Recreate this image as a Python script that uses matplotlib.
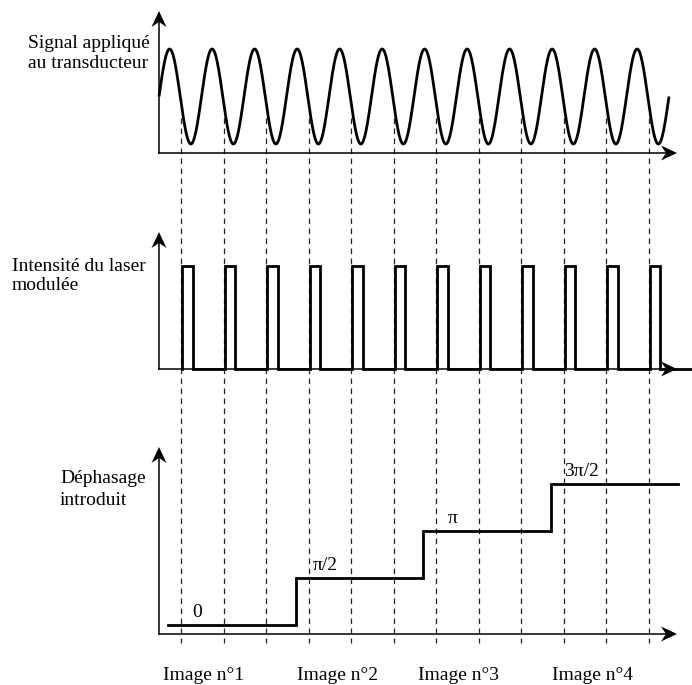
import numpy as np
import matplotlib
matplotlib.use("Agg")
import matplotlib.pyplot as plt
from matplotlib.patches import Polygon

# ---------------- data ----------------
n_periods = 12                                   # periods of the transducer signal
pulse_times = [0.52 + k for k in range(12)]      # laser pulse start (in periods)
pulse_width = 0.24                               # pulse duration (in periods)
phase_levels = [0, 0.5 * np.pi, np.pi, 1.5 * np.pi]
phase_edges = [0.22, 3.22, 6.21, 9.22, 12.21]    # times where the phase changes
phase_labels = ["0", "π/2", "π", "3π/2"]
phase_label_x = [0.90, 3.92, 6.92, 9.95]
image_labels = ["Image n°1", "Image n°2", "Image n°3", "Image n°4"]
image_label_x = [1.06, 4.19, 7.04, 10.19]
panel_titles = [["Signal appliqué", "au transducteur"],
                ["Intensité du laser", "modulée"],
                ["Déphasage", "introduit"]]

# ---------------- layout (pixels) ----------------
W, H = 692, 685
X0 = 159.0          # x of the vertical axes
PX = 42.5           # pixels per period
X_TIP = 677.0
def tx(t):
    return X0 + PX * np.asarray(t)

fig = plt.figure(figsize=(W / 100, H / 100), dpi=100)
ax = fig.add_axes([0, 0, 1, 1])
ax.set_xlim(0, W)
ax.set_ylim(H, 0)
ax.axis("off")

FONT = "Liberation Serif"
FS = 14
AX_LW = 1.1
SIG_LW = 2.0

def arrow_up(x, ytip):
    ax.add_patch(Polygon([(x, ytip), (x - 7.5, ytip + 16), (x, ytip + 11),
                          (x + 7.5, ytip + 16)], closed=True, color="black", lw=0))

def arrow_right(xtip, y):
    ax.add_patch(Polygon([(xtip, y), (xtip - 16, y - 7.5), (xtip - 11, y),
                          (xtip - 16, y + 7.5)], closed=True, color="black", lw=0))

def frame(base, ytop):
    ax.plot([X0, X0], [base, ytop + 6], color="black", lw=AX_LW)
    ax.plot([X0, X_TIP - 6], [base, base], color="black", lw=AX_LW)
    arrow_up(X0, ytop)
    arrow_right(X_TIP, base)

# dashed guide lines
for t in pulse_times:
    ax.plot([tx(t), tx(t)], [118, 643], color="#222222", lw=0.9,
            dashes=(4.5, 3.5), zorder=1)

# ---- panel 1 : sine ----
B1, T1 = 153.0, 11.0
frame(B1, T1)
t = np.linspace(0, n_periods, 2000)
ax.plot(tx(t), 96.5 - 47.5 * np.sin(2 * np.pi * t), color="black", lw=SIG_LW,
        solid_capstyle="butt", zorder=3)

# ---- panel 2 : pulses ----
B2, T2 = 369.0, 232.0
frame(B2, T2)
HI2 = 266.0
xs, ys = [], []
for p in pulse_times:
    s = p + 0.03
    xs += [tx(s), tx(s), tx(s + pulse_width), tx(s + pulse_width)]
    ys += [B2, HI2, HI2, B2]
xs.append(W)
ys.append(B2)
ax.plot(xs, ys, color="black", lw=SIG_LW, solid_joinstyle="miter", zorder=3)

# ---- panel 3 : phase ----
B3, T3 = 634.0, 447.0
frame(B3, T3)
Y0_3 = 625.0
PPH = 47.0 / (0.5 * np.pi)
def py(v):
    return Y0_3 - PPH * v
sx, sy = [], []
for i, lev in enumerate(phase_levels):
    sx += [tx(phase_edges[i]), tx(phase_edges[i + 1])]
    sy += [py(lev), py(lev)]
ax.plot(sx, sy, color="black", lw=SIG_LW, solid_joinstyle="miter", zorder=3)
for lab, lx, lev in zip(phase_labels, phase_label_x, phase_levels):
    ax.text(tx(lx), py(lev) - 8, lab, ha="center", va="baseline",
            fontsize=FS, family=FONT)

# image labels
for lab, lx in zip(image_labels, image_label_x):
    ax.text(tx(lx), 680, lab, ha="center", va="baseline", fontsize=FS, family=FONT)

# panel titles
title_pos = [(28, 47.5, 20.5), (12, 270.7, 18.8), (60, 483.3, 21.8)]
for lines, (x, yb, dy) in zip(panel_titles, title_pos):
    for j, line in enumerate(lines):
        ax.text(x, yb + j * dy, line, ha="left", va="baseline",
                fontsize=FS, family=FONT)

fig.savefig("out.png", dpi=100)
